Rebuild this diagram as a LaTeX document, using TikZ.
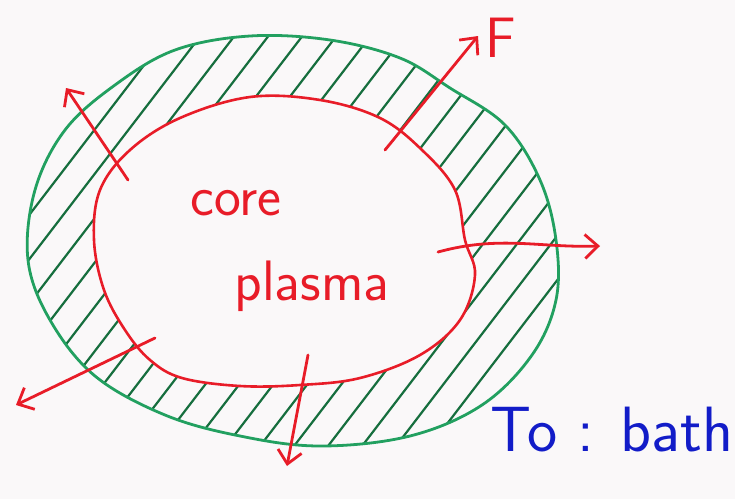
\documentclass[tikz,border=0pt]{standalone}
\usepackage{xcolor}
\usepackage{tikz}
\usetikzlibrary{arrows.meta, positioning}
\definecolor{penred}{RGB}{232,28,40}
\definecolor{pengreen}{RGB}{34,160,96}
\definecolor{hatchgreen}{RGB}{22,110,62}
\definecolor{penblue}{RGB}{18,28,200}
\definecolor{paper}{RGB}{250,248,249}
\tikzset{
  edgeline/.style={draw=pengreen, line width=2.8pt, line join=round},
  coreline/.style={draw=penred, line width=2.6pt, line join=round},
  hatchline/.style={draw=hatchgreen, line width=2.2pt, line cap=round},
  flux/.style={-{Straight Barb[length=13pt,width=24pt,line width=2.8pt]}, draw=penred, line width=2.8pt, line cap=round},
  redtext/.style={text=penred, font=\sffamily\fontsize{57}{60}\selectfont},
  bluetext/.style={text=penblue, font=\sffamily\fontsize{64}{68}\selectfont}
}

\begin{document}
\begin{tikzpicture}[x=1pt, y=-1pt]
    \fill[paper] (0,0) rectangle (735,499);
    \useasboundingbox (0,0) rectangle (735,499);

    % Hatched edge layer between the two boundaries
    \begin{scope}[even odd rule]
      \clip plot[smooth cycle, tension=0.6] coordinates {(250,36) (330,40) (400,58) (450,88) (505,125) (540,180) (556,240) (556,300) (532,355) (482,405) (410,436) (320,446) (240,436) (165,415) (95,376) (50,320) (28,260) (35,190) (65,130) (115,85) (175,50)}
        plot[smooth cycle, tension=0.6] coordinates {(250,97) (320,100) (380,118) (422,150) (455,190) (465,240) (475,275) (460,320) (420,355) (360,378) (300,385) (240,386) (182,378) (150,360) (125,330) (104,290) (94,240) (100,190) (130,150) (180,118)};
      \foreach \c in {160,194,...,1100}
        \draw[hatchline] (\c-460,600) -- (\c,0);
    \end{scope}

    % Outer boundary
    \draw[edgeline] plot[smooth cycle, tension=0.6] coordinates {(250,36) (330,40) (400,58) (450,88) (505,125) (540,180) (556,240) (556,300) (532,355) (482,405) (410,436) (320,446) (240,436) (165,415) (95,376) (50,320) (28,260) (35,190) (65,130) (115,85) (175,50)};

    % Core boundary
    \draw[coreline] plot[smooth cycle, tension=0.6] coordinates {(250,97) (320,100) (380,118) (422,150) (455,190) (465,240) (475,275) (460,320) (420,355) (360,378) (300,385) (240,386) (182,378) (150,360) (125,330) (104,290) (94,240) (100,190) (130,150) (180,118)};

    % Outgoing fluxes
    \coordinate (fin) at (385,150);
    \coordinate (fout) at (478,36);
    \coordinate (tlin) at (128,180);
    \coordinate (tlout) at (66,88);
    \coordinate (rin) at (438,252);
    \coordinate (rout) at (600,246);
    \coordinate (blin) at (155,338);
    \coordinate (blout) at (16,405);
    \coordinate (bin) at (308,355);
    \coordinate (bout) at (287,466);

    \draw[flux] (fin) -- (fout);
    \draw[flux] (tlin) -- (tlout);
    \draw[flux] (rin) .. controls (500,235) and (540,248) .. (rout);
    \draw[flux] (blin) -- (blout);
    \draw[flux] (bin) -- (bout);

    % Labels
    \node[redtext, right=4pt of fout, yshift=-2pt] (flab) {F};
    \node[redtext] (core) at (236,203) {core};
    \node[redtext] (plasma) at (312,286) {plasma};
    \node[bluetext] (bath) at (612,430) {To : bath};
\end{tikzpicture}
\end{document}
